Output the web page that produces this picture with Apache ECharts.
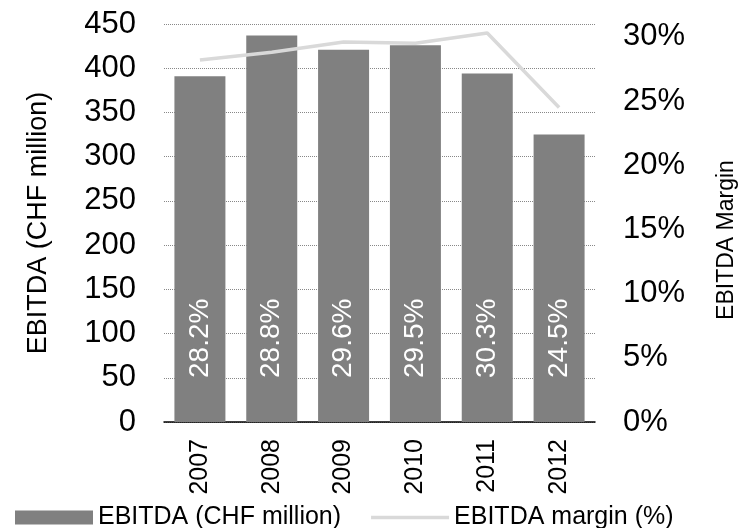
<!DOCTYPE html>
<html lang="en">
<head>
    <meta charset="UTF-8">
    <title>EBITDA</title>
    <script src="https://cdn.jsdelivr.net/npm/echarts@6/dist/echarts.min.js"></script>
    <style>
        html, body { margin: 0; padding: 0; background: #fff; }
    </style>
</head>
<body>
<div id="main" style="width: 741px;height:528px;"></div>
<script type="text/javascript">
    // data
    var years = ["2007", "2008", "2009", "2010", "2011", "2012"];
    var ebitda = [391, 437, 421, 426, 394, 325];      // CHF million
    var margin = [28.2, 28.8, 29.6, 29.5, 30.3, 24.5]; // %
    var leftTicks = [0, 450, 50];
    var rightTicks = [0, 31, 5];

    var font = "'Liberation Sans', Arial, sans-serif";
    var myChart = echarts.init(document.getElementById('main'));

    myChart.setOption({
        animation: false,
        textStyle: { fontFamily: font, color: "#000" },
        grid: { left: 164, right: 146, top: 24, bottom: 106, outerBoundsMode: "none", containLabel: false },
        legend: {
            left: 10,
            top: 500,
            itemWidth: 78,
            itemHeight: 14,
            itemGap: 30,
            symbolKeepAspect: true,
            textStyle: { fontFamily: font, fontSize: 25, color: "#000" },
            data: [
                { name: "EBITDA (CHF million)", icon: "rect" },
                {
                    name: "EBITDA margin (%)",
                    icon: "path://M0,0H78V3.5H0Z",
                    itemStyle: { color: "#d9d9d9" }
                }
            ]
        },
        xAxis: {
            type: "category",
            data: years,
            axisLine: { lineStyle: { color: "#000", width: 1.5 } },
            axisTick: { show: false },
            axisLabel: {
                rotate: 90,
                margin: 17,
                fontSize: 25,
                fontFamily: font,
                color: "#000"
            }
        },
        yAxis: [
            {
                type: "value",
                min: leftTicks[0],
                max: leftTicks[1],
                interval: leftTicks[2],
                name: "EBITDA (CHF million)",
                nameLocation: "middle",
                nameRotate: 90,
                nameGap: 112,
                nameTextStyle: { fontFamily: font, fontSize: 27, color: "#000" },
                axisLine: { show: false },
                axisTick: { show: false },
                axisLabel: { margin: 28, fontSize: 31, fontFamily: font, color: "#000" },
                splitLine: { lineStyle: { color: "#888", type: "dotted", width: 1 } }
            },
            {
                type: "value",
                min: rightTicks[0],
                max: rightTicks[1],
                interval: rightTicks[2],
                name: "EBITDA Margin",
                nameLocation: "middle",
                nameRotate: 90,
                nameGap: 120,
                nameTextStyle: { fontFamily: font, fontSize: 23, color: "#000", padding: [0, 34, 0, 0] },
                axisLine: { show: false },
                axisTick: { show: false },
                splitLine: { show: false },
                axisLabel: {
                    margin: 28,
                    fontSize: 31,
                    fontFamily: font,
                    color: "#000",
                    showMaxLabel: false,
                    formatter: function (v) { return v + "%"; }
                }
            }
        ],
        series: [
            {
                name: "EBITDA (CHF million)",
                type: "bar",
                data: ebitda,
                barWidth: 51,
                itemStyle: { color: "#808080" },
                label: {
                    show: true,
                    position: "insideBottom",
                    distance: 44,
                    rotate: 90,
                    align: "left",
                    verticalAlign: "middle",
                    fontFamily: font,
                    fontSize: 28,
                    color: "#fff",
                    formatter: function (p) { return margin[p.dataIndex].toFixed(1) + "%"; }
                }
            },
            {
                name: "EBITDA margin (%)",
                type: "line",
                yAxisIndex: 1,
                data: margin,
                symbol: "none",
                lineStyle: { color: "#d9d9d9", width: 3.5 },
                itemStyle: { color: "#d9d9d9" }
            }
        ]
    });
</script>
</body>
</html>
